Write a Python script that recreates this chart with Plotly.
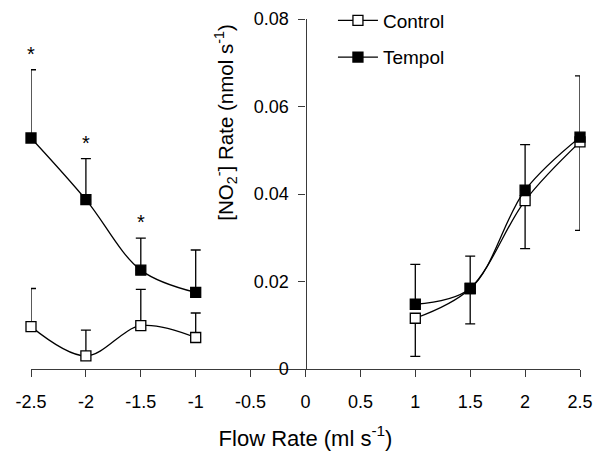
import plotly.graph_objects as go

# ---- data ----
flow_left = [-2.5, -2.0, -1.5, -1.0]
flow_right = [1.0, 1.5, 2.0, 2.5]

control_left = [0.0097, 0.0030, 0.0099, 0.0072]
control_left_err = [0.0087, 0.0059, 0.0083, 0.0056]   # drawn upward
control_right = [0.0116, 0.0184, 0.0385, 0.0519]
control_right_err = [0.0087, 0.0081, 0.0110, 0.0202]  # drawn downward

tempol_left = [0.0528, 0.0387, 0.0226, 0.0175]
tempol_left_err = [0.0156, 0.0094, 0.0073, 0.0097]    # drawn upward
tempol_right = [0.0148, 0.0184, 0.0409, 0.0530]
tempol_right_err = [0.0091, 0.0074, 0.0104, 0.0140]  # drawn upward

significant_idx = [0, 1, 2]  # Tempol points on left marked with *

x_ticks = [-2.5, -2, -1.5, -1, -0.5, 0, 0.5, 1, 1.5, 2, 2.5]
x_tick_text = ["-2.5", "-2", "-1.5", "-1", "-0.5", "0", "0.5", "1", "1.5", "2", "2.5"]
y_ticks = [0, 0.02, 0.04, 0.06, 0.08]
y_tick_text = ["0", "0.02", "0.04", "0.06", "0.08"]

y_title = "[NO<sub>2</sub><sup>-</sup>] Rate (nmol s<sup>-1</sup>)"
x_title = "Flow Rate (ml s<sup>-1</sup>)"

FONT = "Liberation Sans, Arial, sans-serif"
AXIS_COLOR = "#3a3a3a"

x_all = flow_left + [None] + flow_right
ctrl_all = control_left + [None] + control_right
temp_all = tempol_left + [None] + tempol_right

fig = go.Figure()

# error bars (drawn beneath markers)
fig.add_trace(go.Scatter(
    x=flow_left + flow_right, y=control_left + control_right, mode="markers",
    marker=dict(size=1, color="rgba(0,0,0,0)"), showlegend=False, hoverinfo="skip",
    cliponaxis=False,
    error_y=dict(type="data", symmetric=False,
                 array=control_left_err + [0] * len(control_right),
                 arrayminus=[0] * len(control_left) + control_right_err,
                 color="black", thickness=1.3, width=5)))
fig.add_trace(go.Scatter(
    x=flow_left + flow_right, y=tempol_left + tempol_right, mode="markers",
    marker=dict(size=1, color="rgba(0,0,0,0)"), showlegend=False, hoverinfo="skip",
    cliponaxis=False,
    error_y=dict(type="data", symmetric=False,
                 array=tempol_left_err + tempol_right_err,
                 arrayminus=[0] * (len(tempol_left) + len(tempol_right)),
                 color="black", thickness=1.3, width=5)))

fig.add_trace(go.Scatter(
    x=x_all, y=ctrl_all, name="Control", mode="lines+markers", connectgaps=False,
    line=dict(color="black", width=1.3, shape="spline"), cliponaxis=False,
    marker=dict(symbol="square", size=10, color="white", line=dict(color="black", width=1.3)),
    legendgroup="c"))
fig.add_trace(go.Scatter(
    x=x_all, y=temp_all, name="Tempol", mode="lines+markers", connectgaps=False,
    line=dict(color="black", width=1.3, shape="spline"), cliponaxis=False,
    marker=dict(symbol="square", size=10, color="black", line=dict(color="black", width=1.3)),
    legendgroup="t"))

for i in significant_idx:
    fig.add_annotation(x=flow_left[i], y=tempol_left[i] + tempol_left_err[i],
                       text="*", showarrow=False, yanchor="bottom", yshift=3,
                       font=dict(family=FONT, size=20, color="black"))

# y-axis title (placed above centre, as in the original)
fig.add_annotation(x=0, y=0.0562, xref="x", yref="y", text=y_title, textangle=-90,
                   showarrow=False, xshift=-80, xanchor="center", yanchor="middle",
                   font=dict(family=FONT, size=20.5, color="black"))

fig.update_layout(
    width=605, height=452,
    margin=dict(l=30.5, r=24.5, t=19, b=82.5, autoexpand=False),
    paper_bgcolor="white", plot_bgcolor="white",
    font=dict(family=FONT, size=18, color="black"),
    showlegend=True,
    legend=dict(x=0.55, y=1.05, xanchor="left", yanchor="top",
                bgcolor="rgba(0,0,0,0)", font=dict(size=19),
                tracegroupgap=9, itemwidth=40),
    xaxis=dict(range=[-2.5, 2.5], tickvals=x_ticks, ticktext=x_tick_text,
               automargin=False,
               showgrid=False, zeroline=False, showline=True, linecolor=AXIS_COLOR,
               linewidth=1.3, ticks="outside", ticklen=7, tickwidth=1.3, tickcolor=AXIS_COLOR,
               ticklabelstandoff=9,
               title=dict(text=x_title, standoff=19)),
    yaxis=dict(range=[0, 0.08], tickvals=y_ticks, ticktext=y_tick_text,
               anchor="free", position=0.5, automargin=False,
               showgrid=False, zeroline=False, showline=True, linecolor=AXIS_COLOR,
               linewidth=1.3, ticks="outside", ticklen=7, tickwidth=1.3, tickcolor=AXIS_COLOR,
               ticklabelstandoff=6),
)

fig.write_html("out.html")
